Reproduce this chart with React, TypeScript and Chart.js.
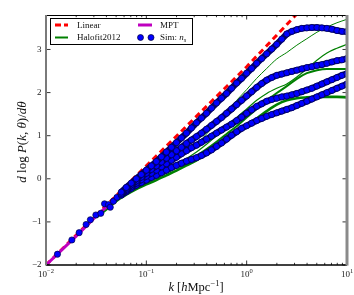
import { useEffect, useRef } from "react";
import { Chart, registerables } from "chart.js";

Chart.register(...registerables);

// ---- data ----
// sparse low-k simulation points (all redshifts coincide here)
const simLowK = [0.013, 0.0181, 0.0214, 0.0251, 0.0277, 0.0314, 0.0352, 0.0383, 0.042, 0.0437, 0.047, 0.051];
const simLowV = [-1.75, -1.42, -1.25, -1.06, -0.95, -0.84, -0.8, -0.58, -0.6, -0.66, -0.52, -0.43];

// log10 k positions of the dense simulation points
const simLogK = [-1.25, -1.2, -1.15, -1.1, -1.05, -1, -0.95, -0.9, -0.85, -0.8, -0.75, -0.7, -0.65, -0.6, -0.55, -0.5, -0.45, -0.4, -0.35, -0.3, -0.25, -0.2, -0.15, -0.1, -0.05, 0, 0.05, 0.1, 0.15, 0.2, 0.25, 0.3, 0.35, 0.4, 0.45, 0.5, 0.55, 0.6, 0.65, 0.7, 0.75, 0.8, 0.85, 0.9, 0.95, 1];
const simA = [-0.31, -0.2, -0.1, 0.0, 0.1, 0.2, 0.3, 0.4, 0.51, 0.62, 0.73, 0.84, 0.95, 1.06, 1.18, 1.3, 1.41, 1.52, 1.64, 1.76, 1.87, 1.98, 2.1, 2.22, 2.33, 2.45, 2.56, 2.68, 2.79, 2.9, 3.01, 3.12, 3.24, 3.36, 3.42, 3.46, 3.49, 3.5, 3.51, 3.51, 3.5, 3.49, 3.47, 3.44, 3.42, 3.41];
const simB = [-0.34, -0.24, -0.14, -0.05, 0.04, 0.13, 0.22, 0.3, 0.39, 0.48, 0.56, 0.65, 0.73, 0.82, 0.9, 0.98, 1.06, 1.15, 1.24, 1.33, 1.42, 1.52, 1.62, 1.72, 1.82, 1.92, 2.02, 2.12, 2.21, 2.29, 2.35, 2.4, 2.43, 2.46, 2.49, 2.52, 2.55, 2.58, 2.6, 2.63, 2.65, 2.68, 2.71, 2.74, 2.76, 2.79];
const simC = [-0.36, -0.27, -0.18, -0.1, -0.02, 0.06, 0.13, 0.2, 0.28, 0.35, 0.43, 0.5, 0.58, 0.65, 0.72, 0.78, 0.85, 0.92, 0.99, 1.06, 1.13, 1.2, 1.27, 1.35, 1.43, 1.52, 1.6, 1.68, 1.74, 1.8, 1.84, 1.87, 1.9, 1.92, 1.95, 1.98, 2.02, 2.06, 2.1, 2.15, 2.2, 2.25, 2.3, 2.35, 2.4, 2.44];
const simD = [-0.38, -0.3, -0.22, -0.15, -0.09, -0.03, 0.03, 0.08, 0.14, 0.2, 0.26, 0.31, 0.36, 0.41, 0.45, 0.49, 0.54, 0.6, 0.67, 0.75, 0.83, 0.92, 1.01, 1.09, 1.17, 1.23, 1.29, 1.35, 1.4, 1.45, 1.49, 1.53, 1.57, 1.61, 1.65, 1.7, 1.75, 1.8, 1.85, 1.9, 1.95, 2.0, 2.05, 2.1, 2.15, 2.2];

// Halofit2012 curves
const hfLogK = [-1.5, -1.4, -1.3, -1.2, -1.1, -1.0, -0.9, -0.8, -0.7, -0.6, -0.5, -0.4, -0.3, -0.2, -0.1, 0, 0.1, 0.2, 0.3, 0.4, 0.5, 0.6, 0.7, 0.8, 0.9, 1.0];
const hf1 = [-0.87, -0.66, -0.46, -0.28, -0.12, 0.0, 0.12, 0.27, 0.44, 0.61, 0.8, 1.04, 1.3, 1.56, 1.82, 2.07, 2.33, 2.56, 2.78, 2.93, 3.1, 3.25, 3.4, 3.52, 3.62, 3.7];
const hf2 = [-0.88, -0.68, -0.48, -0.31, -0.16, -0.04, 0.08, 0.2, 0.33, 0.47, 0.62, 0.8, 1.0, 1.2, 1.42, 1.62, 1.82, 1.98, 2.1, 2.2, 2.36, 2.55, 2.75, 2.92, 3.03, 3.12];
const hf3 = [-0.89, -0.69, -0.5, -0.34, -0.2, -0.08, 0.03, 0.14, 0.26, 0.39, 0.53, 0.69, 0.86, 1.04, 1.22, 1.42, 1.62, 1.82, 1.99, 2.15, 2.32, 2.45, 2.52, 2.55, 2.55, 2.55];
const hf4 = [-0.9, -0.71, -0.52, -0.37, -0.24, -0.13, -0.03, 0.08, 0.19, 0.31, 0.43, 0.57, 0.72, 0.89, 1.05, 1.22, 1.4, 1.57, 1.72, 1.82, 1.87, 1.89, 1.9, 1.9, 1.9, 1.89];

// Linear theory and MPT
const linK = [0.01, 0.1, 1, 5];
const linV = [-2.0, 0.3, 2.6, 4.31];
const mptK = [0.01, 0.02, 0.03, 0.04, 0.05];
const mptV = [-2.0, -1.33, -0.92, -0.65, -0.45];

// axes
const X_MIN = 0.01, X_MAX = 10, Y_MIN = -2, Y_MAX = 3.8;
const X_TICKS = [0.01, 0.1, 1, 10];
const X_EXP = ["\u22122", "\u22121", "0", "1"];
const X_MINOR_MULT = [2, 3, 4, 5, 6, 7, 8, 9];
const Y_TICKS = [-2, -1, 0, 1, 2, 3];
const Y_LABELS = ["\u22122", "\u22121", "0", "1", "2", "3"];

const SERIF = '"Liberation Serif", "DejaVu Serif", serif';

type Piece = { t: string; it?: boolean; size: number; dy?: number };

function drawPieces(ctx: CanvasRenderingContext2D, pieces: Piece[], x: number, y: number, align: "left" | "center") {
  const font = (p: Piece) => `${p.it ? "italic " : ""}${p.size}px ${SERIF}`;
  let w = 0;
  for (const p of pieces) {
    ctx.font = font(p);
    w += ctx.measureText(p.t).width;
  }
  let cx = align === "center" ? x - w / 2 : x;
  ctx.textAlign = "left";
  for (const p of pieces) {
    ctx.font = font(p);
    ctx.fillText(p.t, cx, y + (p.dy || 0));
    cx += ctx.measureText(p.t).width;
  }
}

const decor = {
  id: "decor",
  afterDraw(chart: any) {
    const { ctx, chartArea: a, scales } = chart;
    const xs = scales.x, ys = scales.y;
    ctx.save();
    const seg = (x1: number, y1: number, x2: number, y2: number) => {
      ctx.beginPath();
      ctx.moveTo(x1, y1);
      ctx.lineTo(x2, y2);
      ctx.stroke();
    };
    // ticks
    ctx.strokeStyle = "#000";
    ctx.lineWidth = 0.8;
    for (const t of X_TICKS) {
      const px = xs.getPixelForValue(t);
      seg(px, a.bottom, px, a.bottom - 4.5);
      seg(px, a.top, px, a.top + 4.5);
    }
    for (const d of X_TICKS.slice(0, 3)) {
      for (const m of X_MINOR_MULT) {
        const px = xs.getPixelForValue(d * m);
        seg(px, a.bottom, px, a.bottom - 2.2);
        seg(px, a.top, px, a.top + 2.2);
      }
    }
    for (const t of Y_TICKS) {
      const py = ys.getPixelForValue(t);
      seg(a.left, py, a.left + 4.5, py);
      seg(a.right, py, a.right - 4.5, py);
    }
    // spines
    ctx.strokeStyle = "#000";
    ctx.lineWidth = 1;
    seg(a.left, a.top + 0.5, a.right, a.top + 0.5);
    ctx.lineWidth = 1.3;
    seg(a.left, a.bottom, a.right, a.bottom);
    ctx.strokeStyle = "#7a7a7a";
    ctx.lineWidth = 2;
    seg(a.left, a.top, a.left, a.bottom + 0.6);
    ctx.strokeStyle = "#8a8a8a";
    ctx.lineWidth = 3;
    seg(a.right, a.top, a.right, a.bottom + 0.6);

    // tick labels
    ctx.fillStyle = "#222";
    ctx.textBaseline = "middle";
    ctx.textAlign = "right";
    ctx.font = `9px ${SERIF}`;
    Y_TICKS.forEach((t, i) => {
      ctx.fillText(Y_LABELS[i], a.left - 4.5, ys.getPixelForValue(t));
    });
    ctx.textBaseline = "alphabetic";
    X_TICKS.forEach((t, i) => {
      const px = xs.getPixelForValue(t);
      drawPieces(ctx, [
        { t: "10", size: 9 },
        { t: X_EXP[i], size: 6.5, dy: -4.5 },
      ], px, a.bottom + 12, "center");
    });

    // axis titles
    ctx.fillStyle = "#111";
    drawPieces(ctx, [
      { t: "k", it: true, size: 12.5 },
      { t: " [", size: 12.5 },
      { t: "h", it: true, size: 12.5 },
      { t: "Mpc", size: 12.5 },
      { t: "\u22121", size: 8.5, dy: -5 },
      { t: "]", size: 12.5 },
    ], 196, a.bottom + 26, "center");
    ctx.save();
    ctx.translate(25.5, 142);
    ctx.rotate(-Math.PI / 2);
    drawPieces(ctx, [
      { t: "d", it: true, size: 13 },
      { t: " log ", size: 13 },
      { t: "P", it: true, size: 13 },
      { t: "(", size: 13 },
      { t: "k", it: true, size: 13 },
      { t: ", ", size: 13 },
      { t: "\u03b8", it: true, size: 13 },
      { t: ")/", size: 13 },
      { t: "d", it: true, size: 13 },
      { t: "\u03b8", it: true, size: 13 },
    ], 0, 0, "center");
    ctx.restore();

    // legend
    const lx = 50, ly = 18, lw = 142, lh = 26;
    ctx.fillStyle = "#fff";
    ctx.fillRect(lx, ly, lw, lh);
    ctx.strokeStyle = "#000";
    ctx.lineWidth = 1;
    ctx.strokeRect(lx + 0.5, ly + 0.5, lw, lh);
    const r1 = 25, r2 = 37.5;
    ctx.lineWidth = 3;
    ctx.strokeStyle = "#ff0000";
    ctx.setLineDash([6, 3]);
    seg(55, r1, 68, r1);
    ctx.setLineDash([]);
    ctx.strokeStyle = "#008000";
    ctx.lineWidth = 2;
    seg(55, r2, 68, r2);
    ctx.strokeStyle = "#bf00bf";
    ctx.lineWidth = 3;
    seg(138, r1, 152, r1);
    for (const cx of [140.5, 151]) {
      ctx.beginPath();
      ctx.arc(cx, r2, 3, 0, Math.PI * 2);
      ctx.fillStyle = "#0000ff";
      ctx.fill();
      ctx.strokeStyle = "#000033";
      ctx.lineWidth = 0.7;
      ctx.stroke();
    }
    ctx.fillStyle = "#111";
    ctx.textBaseline = "middle";
    drawPieces(ctx, [{ t: "Linear", size: 9 }], 77, r1 + 0.5, "left");
    drawPieces(ctx, [{ t: "Halofit2012", size: 9 }], 77, r2 + 0.5, "left");
    drawPieces(ctx, [{ t: "MPT", size: 9 }], 160, r1 + 0.5, "left");
    drawPieces(ctx, [
      { t: "Sim: ", size: 9 },
      { t: "n", it: true, size: 9 },
      { t: "s", it: true, size: 6.5, dy: 2 },
    ], 160, r2 + 0.5, "left");
    ctx.restore();
  },
};

export default function App() {
  const ref = useRef<HTMLCanvasElement>(null);
  useEffect(() => {
    document.body.style.margin = "0";
    const pts = (ks: number[], vs: number[]) => ks.map((k, i) => ({ x: k, y: vs[i] }));
    const fromLog = (lk: number[], vs: number[]) => lk.map((l, i) => ({ x: Math.pow(10, l), y: vs[i] }));
    const sim = (vs: number[]) => ({
      data: fromLog(simLogK, vs),
      showLine: true,
      borderColor: "#00006a",
      borderWidth: 6.4,
      pointRadius: 3.1,
      pointBackgroundColor: "#0000ff",
      pointBorderColor: "#000040",
      pointBorderWidth: 0.7,
      clip: 0,
    });
    const hf = (vs: number[], w: number) => ({
      data: fromLog(hfLogK, vs),
      showLine: true,
      borderColor: "#008000",
      borderWidth: w,
      pointRadius: 0,
      cubicInterpolationMode: "monotone",
      clip: 0,
    });
    const chart = new Chart(ref.current as HTMLCanvasElement, {
      type: "scatter",
      data: {
        datasets: [
          sim(simA),
          sim(simB),
          sim(simC),
          sim(simD),
          {
            data: pts(simLowK, simLowV),
            showLine: false,
            pointRadius: 3.1,
            pointBackgroundColor: "#0000ff",
            pointBorderColor: "#000040",
            pointBorderWidth: 0.7,
            clip: 0,
          },
          {
            data: pts(mptK, mptV),
            showLine: true,
            borderColor: "#bf00bf",
            borderWidth: 3,
            pointRadius: 0,
            clip: 0,
          },
          hf(hf1, 1),
          hf(hf2, 1.2),
          hf(hf3, 2),
          hf(hf4, 2.6),
          {
            data: pts(linK, linV),
            showLine: true,
            borderColor: "#ff0000",
            borderWidth: 3,
            borderDash: [6, 4],
            pointRadius: 0,
            clip: 0,
          },
        ] as any,
      },
      options: {
        responsive: false,
        animation: false,
        devicePixelRatio: 1,
        events: [],
        layout: { padding: { left: 46, right: 7, top: 15, bottom: 30 } },
        scales: {
          x: { type: "logarithmic", min: X_MIN, max: X_MAX, display: false },
          y: { type: "linear", min: Y_MIN, max: Y_MAX, display: false },
        },
        plugins: { legend: { display: false }, tooltip: { enabled: false } },
      },
      plugins: [decor],
    });
    return () => chart.destroy();
  }, []);
  return <canvas ref={ref} width={354} height={295} style={{ display: "block", width: 354, height: 295 }} />;
}
